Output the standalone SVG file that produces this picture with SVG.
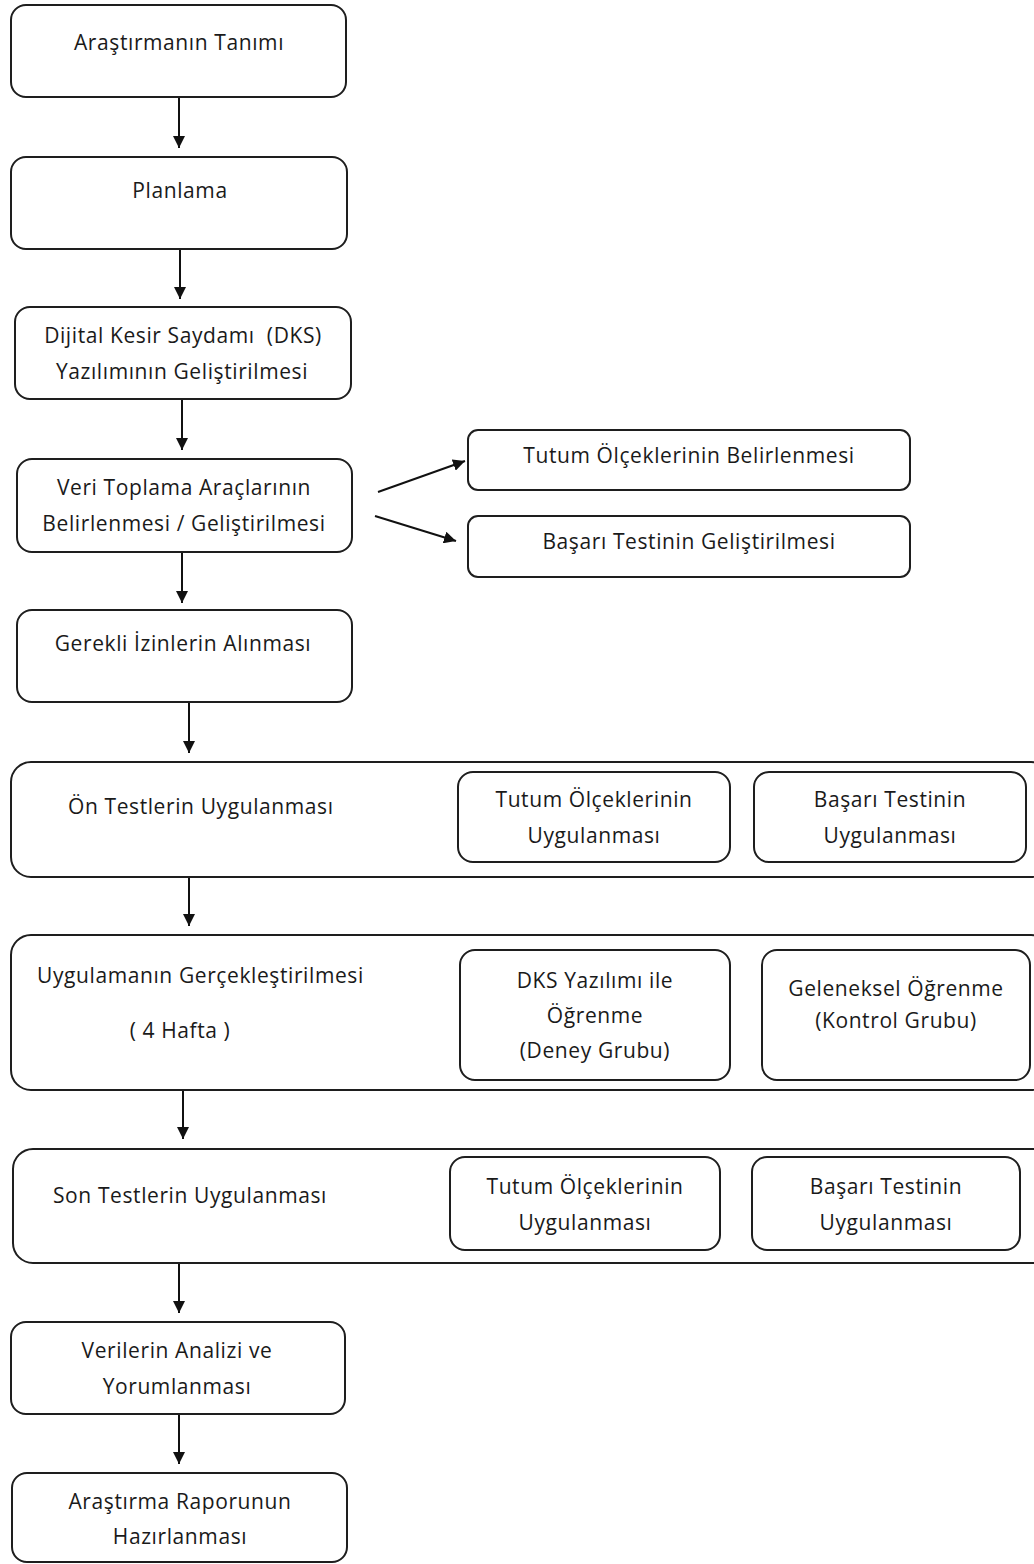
<svg xmlns="http://www.w3.org/2000/svg" width="1034" height="1564" viewBox="0 0 1034 1564">
<style>
.b{fill:#fff;stroke:#1e1e1e;stroke-width:2}
.t{font-family:"Open Sans","Liberation Sans",sans-serif;font-size:21px;letter-spacing:0.6px;fill:#1a1a1a;text-anchor:middle}
.s{text-anchor:start}
.c{stroke:#111;stroke-width:2;fill:none;marker-end:url(#ah)}
</style>
<defs>
<marker id="ah" markerUnits="userSpaceOnUse" markerWidth="12" markerHeight="12" refX="12" refY="6" orient="auto">
<path d="M0,0 L12,6 L0,12 z" fill="#111"/>
</marker>
</defs>
<rect width="1034" height="1564" fill="#fff"/>
<g id="connectors">
<line class="c" x1="179" y1="97" x2="179" y2="148"/>
<line class="c" x1="180" y1="249" x2="180" y2="299"/>
<line class="c" x1="182" y1="399" x2="182" y2="450"/>
<line class="c" x1="182" y1="552" x2="182" y2="603"/>
<line class="c" x1="378" y1="492" x2="465" y2="461"/>
<line class="c" x1="375" y1="516" x2="456" y2="541"/>
<line class="c" x1="189" y1="702" x2="189" y2="753"/>
<line class="c" x1="189" y1="877" x2="189" y2="926"/>
<line class="c" x1="183" y1="1090" x2="183" y2="1139"/>
<line class="c" x1="179" y1="1263" x2="179" y2="1313"/>
<line class="c" x1="179" y1="1414" x2="179" y2="1464"/>
</g>
<g id="n1"><rect class="b" x="11" y="5" width="335" height="92" rx="15"/><text class="t" x="179" y="50">Araştırmanın Tanımı</text></g>
<g id="n2"><rect class="b" x="11" y="157" width="336" height="92" rx="15"/><text class="t" x="180" y="198">Planlama</text></g>
<g id="n3"><rect class="b" x="15" y="307" width="336" height="92" rx="15"/><text class="t" x="183" y="343" xml:space="preserve">Dijital Kesir Saydamı  (DKS)</text><text class="t" x="182" y="379">Yazılımının Geliştirilmesi</text></g>
<g id="n4"><rect class="b" x="17" y="459" width="335" height="93" rx="15"/><text class="t" x="184" y="495">Veri Toplama Araçlarının</text><text class="t" x="184" y="531">Belirlenmesi / Geliştirilmesi</text></g>
<g id="n4a"><rect class="b" x="468" y="430" width="442" height="60" rx="10"/><text class="t" x="689" y="463">Tutum Ölçeklerinin Belirlenmesi</text></g>
<g id="n4b"><rect class="b" x="468" y="516" width="442" height="61" rx="10"/><text class="t" x="689" y="549">Başarı Testinin Geliştirilmesi</text></g>
<g id="n5"><rect class="b" x="17" y="610" width="335" height="92" rx="15"/><text class="t" x="183" y="651">Gerekli İzinlerin Alınması</text></g>
<g id="n6"><rect class="b" x="11" y="762" width="1040" height="115" rx="20"/><text class="t s" x="68" y="814">Ön Testlerin Uygulanması</text>
<g id="n6a"><rect class="b" x="458" y="772" width="272" height="90" rx="15"/><text class="t" x="594" y="807">Tutum Ölçeklerinin</text><text class="t" x="594" y="843">Uygulanması</text></g>
<g id="n6b"><rect class="b" x="754" y="772" width="272" height="90" rx="15"/><text class="t" x="890" y="807">Başarı Testinin</text><text class="t" x="890" y="843">Uygulanması</text></g></g>
<g id="n7"><rect class="b" x="11" y="935" width="1040" height="155" rx="20"/><text class="t s" x="37" y="983">Uygulamanın Gerçekleştirilmesi</text><text class="t" x="180" y="1038">( 4 Hafta )</text>
<g id="n7a"><rect class="b" x="460" y="950" width="270" height="130" rx="15"/><text class="t" x="595" y="988">DKS Yazılımı ile</text><text class="t" x="595" y="1023">Öğrenme</text><text class="t" x="595" y="1058">(Deney Grubu)</text></g>
<g id="n7b"><rect class="b" x="762" y="950" width="268" height="130" rx="15"/><text class="t" x="896" y="996">Geleneksel Öğrenme</text><text class="t" x="896" y="1028">(Kontrol Grubu)</text></g></g>
<g id="n8"><rect class="b" x="13" y="1149" width="1040" height="114" rx="20"/><text class="t s" x="53" y="1203">Son Testlerin Uygulanması</text>
<g id="n8a"><rect class="b" x="450" y="1157" width="270" height="93" rx="15"/><text class="t" x="585" y="1194">Tutum Ölçeklerinin</text><text class="t" x="585" y="1230">Uygulanması</text></g>
<g id="n8b"><rect class="b" x="752" y="1157" width="268" height="93" rx="15"/><text class="t" x="886" y="1194">Başarı Testinin</text><text class="t" x="886" y="1230">Uygulanması</text></g></g>
<g id="n9"><rect class="b" x="11" y="1322" width="334" height="92" rx="15"/><text class="t" x="177" y="1358">Verilerin Analizi ve</text><text class="t" x="177" y="1394">Yorumlanması</text></g>
<g id="n10"><rect class="b" x="12" y="1473" width="335" height="89" rx="15"/><text class="t" x="180" y="1509">Araştırma Raporunun</text><text class="t" x="180" y="1544">Hazırlanması</text></g>
</svg>
